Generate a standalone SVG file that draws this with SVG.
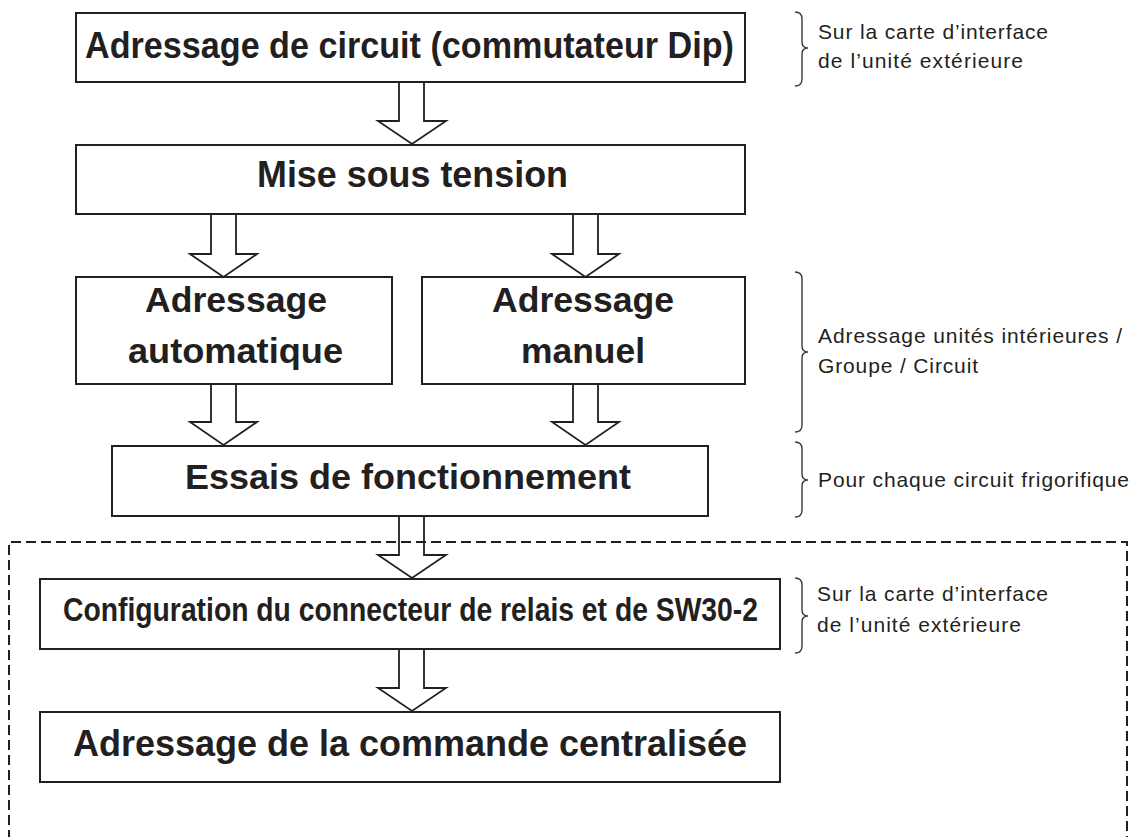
<svg xmlns="http://www.w3.org/2000/svg" width="1132" height="837" viewBox="0 0 1132 837">
<style>
.box{fill:#fff;stroke:#231f20;stroke-width:2}
.t{font-family:"Liberation Sans",Arial,sans-serif;font-weight:bold;fill:#231f20}
.n{font-family:"Liberation Sans",Arial,sans-serif;font-size:21px;fill:#231f20}
.arr{fill:#fff;stroke:#231f20;stroke-width:1.8;stroke-linejoin:miter}
.brace{fill:none;stroke:#3a3a3a;stroke-width:1.4}
.dash{fill:none;stroke:#231f20;stroke-width:2;stroke-dasharray:10 5}
</style>
<rect width="1132" height="837" fill="#fff"/>

<g id="connectors">
  <path class="arr" d="M399 82 V121 H378 L412 144 L446 121 H424 V82"/>
  <path class="arr" d="M211 214 V254 H190 L223.5 277 L257 254 H236 V214"/>
  <path class="arr" d="M573 214 V254 H552 L585.5 277 L619 254 H598 V214"/>
  <path class="arr" d="M211 384 V422 H190 L223.5 445 L257 422 H236 V384"/>
  <path class="arr" d="M573 384 V422 H552 L585.5 445 L619 422 H598 V384"/>
  <path class="arr" d="M399 516 V555 H378 L412 578 L446 555 H424 V516"/>
  <path class="arr" d="M399 649 V688 H378 L412 711 L446 688 H424 V649"/>
</g>

<g id="frame">
  <path class="dash" d="M9 840 V542 H1127 V840"/>
</g>

<g id="n1">
  <rect class="box" x="76" y="13" width="669" height="69"/>
  <text class="t" x="85" y="58" font-size="37" textLength="649" lengthAdjust="spacingAndGlyphs">Adressage de circuit (commutateur Dip)</text>
</g>
<g id="n2">
  <rect class="box" x="76" y="145" width="669" height="69"/>
  <text class="t" x="257" y="187" font-size="36" textLength="311" lengthAdjust="spacingAndGlyphs">Mise sous tension</text>
</g>
<g id="n3">
  <rect class="box" x="76" y="277" width="316" height="107"/>
  <text class="t" x="145" y="312" font-size="35" textLength="182" lengthAdjust="spacingAndGlyphs">Adressage</text>
  <text class="t" x="128" y="363" font-size="35" textLength="215" lengthAdjust="spacingAndGlyphs">automatique</text>
</g>
<g id="n4">
  <rect class="box" x="422" y="277" width="323" height="107"/>
  <text class="t" x="492" y="312" font-size="35" textLength="182" lengthAdjust="spacingAndGlyphs">Adressage</text>
  <text class="t" x="521" y="363" font-size="35" textLength="124" lengthAdjust="spacingAndGlyphs">manuel</text>
</g>
<g id="n5">
  <rect class="box" x="112" y="446" width="596" height="70"/>
  <text class="t" x="185" y="489" font-size="35" textLength="446" lengthAdjust="spacingAndGlyphs">Essais de fonctionnement</text>
</g>
<g id="n6">
  <rect class="box" x="40" y="579" width="740" height="70"/>
  <text class="t" x="63" y="621" font-size="34" textLength="695" lengthAdjust="spacingAndGlyphs">Configuration du connecteur de relais et de SW30-2</text>
</g>
<g id="n7">
  <rect class="box" x="40" y="712" width="740" height="70"/>
  <text class="t" x="73" y="756" font-size="36" textLength="674" lengthAdjust="spacingAndGlyphs">Adressage de la commande centralisée</text>
</g>

<g id="note1">
  <path class="brace" d="M795 12 Q802 12 802 19 V42 Q802 48 808 48 Q802 48 802 54 V79 Q802 86 795 86"/>
  <text class="n" x="818" y="39" textLength="230" lengthAdjust="spacing">Sur la carte d’interface</text>
  <text class="n" x="818" y="68" textLength="205" lengthAdjust="spacing">de l’unité extérieure</text>
</g>
<g id="note2">
  <path class="brace" d="M795 272 Q802 272 802 279 V346 Q802 352 808 352 Q802 352 802 358 V425 Q802 432 795 432"/>
  <text class="n" x="818" y="343" textLength="304" lengthAdjust="spacing">Adressage unités intérieures /</text>
  <text class="n" x="818" y="373" textLength="160" lengthAdjust="spacing">Groupe / Circuit</text>
</g>
<g id="note3">
  <path class="brace" d="M795 442 Q802 442 802 449 V474 Q802 480 808 480 Q802 480 802 486 V510 Q802 517 795 517"/>
  <text class="n" x="818" y="487" textLength="311" lengthAdjust="spacing">Pour chaque circuit frigorifique</text>
</g>
<g id="note4">
  <path class="brace" d="M795 578 Q802 578 802 585 V610 Q802 616 808 616 Q802 616 802 622 V646 Q802 653 795 653"/>
  <text class="n" x="817" y="601" textLength="231" lengthAdjust="spacing">Sur la carte d’interface</text>
  <text class="n" x="817" y="632" textLength="204" lengthAdjust="spacing">de l’unité extérieure</text>
</g>
</svg>
